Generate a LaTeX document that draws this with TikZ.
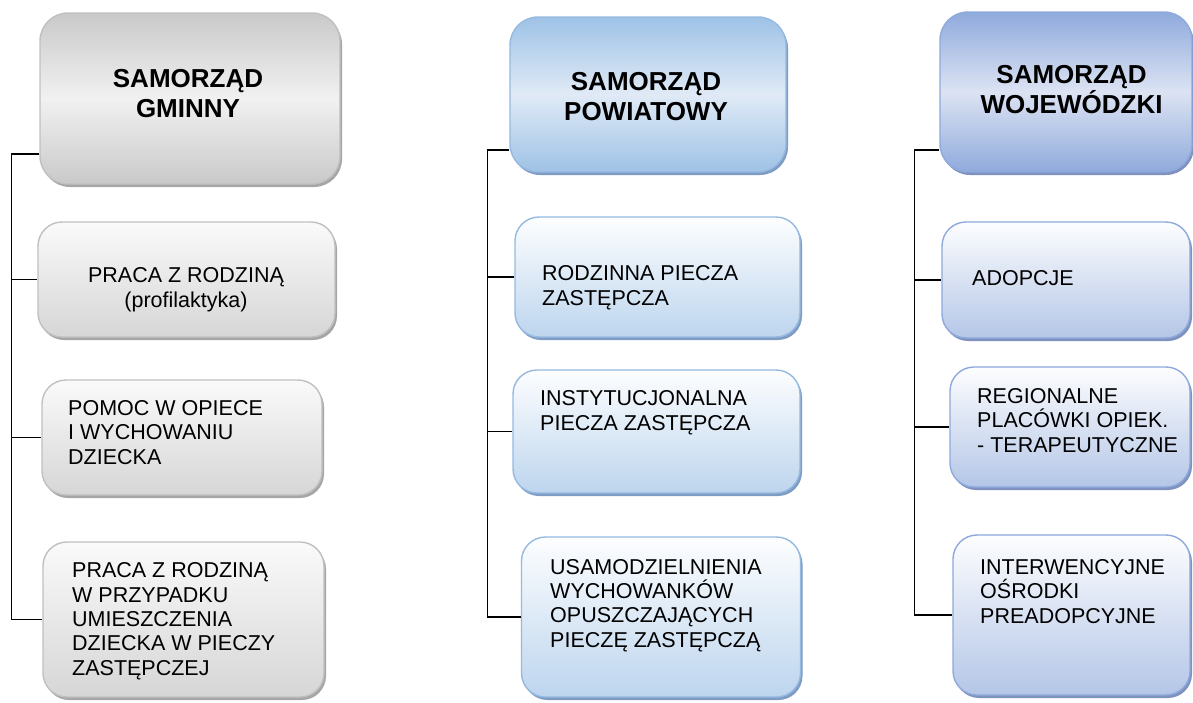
\documentclass[tikz,border=0pt]{standalone}
\usepackage{fontspec}
\setmainfont{Liberation Sans}
\usetikzlibrary{shadows}

\definecolor{gline}{HTML}{C0C0C0}
\definecolor{gdark}{HTML}{C9C9C9}
\definecolor{glight}{HTML}{F1F1F1}
\definecolor{gbot}{HTML}{D6D6D6}
\definecolor{gshade}{HTML}{A6A6A6}
\definecolor{pline}{HTML}{95B9E0}
\definecolor{pdark}{HTML}{9EC2E6}
\definecolor{plight}{HTML}{E0EAF6}
\definecolor{pbot}{HTML}{BDD5EE}
\definecolor{pshade}{HTML}{7F9CC4}
\definecolor{wline}{HTML}{8EA9DB}
\definecolor{wdark}{HTML}{8FAADC}
\definecolor{wlight}{HTML}{DCE3F3}
\definecolor{wbot}{HTML}{B4C6E7}
\definecolor{wshade}{HTML}{7F92BF}

\begin{document}
\begin{tikzpicture}[x=1pt,y=-1pt,
  conn/.style={line width=1.6pt},
  box/.style={rounded corners=24pt,line width=1.4pt,inner sep=0pt},
  head/.style={box,rounded corners=28pt,shading angle=-45},
  ghead/.style={head,draw=gline,top color=gdark,bottom color=gdark,middle color=glight,
    drop shadow={shadow xshift=2pt,shadow yshift=-3pt,fill=gshade,opacity=1}},
  gsub/.style={box,draw=gline,top color=white!96!gray,bottom color=gbot,
    drop shadow={shadow xshift=2pt,shadow yshift=-3pt,fill=gshade,opacity=1}},
  phead/.style={head,draw=pline,top color=pdark,bottom color=pdark,middle color=plight,
    drop shadow={shadow xshift=2pt,shadow yshift=-3pt,fill=pshade,opacity=1}},
  psub/.style={box,draw=pline,top color=white!97!pbot,bottom color=pbot,
    drop shadow={shadow xshift=2pt,shadow yshift=-3pt,fill=pshade,opacity=1}},
  whead/.style={head,draw=wline,top color=wdark,bottom color=wdark,middle color=wlight,
    drop shadow={shadow xshift=2pt,shadow yshift=-3pt,fill=wshade,opacity=1}},
  wsub/.style={box,draw=wline,top color=white!97!wbot,bottom color=wbot,
    drop shadow={shadow xshift=2pt,shadow yshift=-3pt,fill=wshade,opacity=1}},
  title/.style={font=\fontsize{26}{30}\selectfont\bfseries,align=center,inner sep=0pt,anchor=base},
  body/.style={font=\fontsize{21.5}{24.3}\selectfont,align=left,inner sep=0pt,anchor=base west}]
\useasboundingbox (0,0) rectangle (1193,702);

% samorzad gminny
\node[ghead,minimum width=300pt,minimum height=171pt] (g0) at (190,98.5) {};
\node[gsub,minimum width=297pt,minimum height=115pt] (g1) at (186.5,279.5) {};
\node[gsub,minimum width=280pt,minimum height=115pt] (g2) at (182,437.5) {};
\node[gsub,minimum width=281pt,minimum height=155pt] (g3) at (183.5,619.5) {};
\node[title] (g0t) at (188,117) {SAMORZĄD\\GMINNY};
\node[body,align=center,anchor=base] (g1t) at (186,307) {PRACA Z RODZINĄ\\(profilaktyka)};
\node[body] (g2t) at (68,464) {POMOC W OPIECE\\I WYCHOWANIU\\DZIECKA};
\node[body] (g3t) at (72,675) {PRACA Z RODZINĄ\\W PRZYPADKU\\UMIESZCZENIA\\DZIECKA W PIECZY\\ZASTĘPCZEJ};
\draw[conn] ([yshift=-55.5pt]g0.west) -- ++(-28,0) coordinate (gtr) |- (g3.west);
\draw[conn] (gtr |- g1.west) -- (g1.west);
\draw[conn] (gtr |- g2.west) -- (g2.west);

% samorzad powiatowy
\node[phead,minimum width=276pt,minimum height=155pt] (p0) at (648,94.5) {};
\node[psub,minimum width=285pt,minimum height=120pt] (p1) at (657.5,277) {};
\node[psub,minimum width=287pt,minimum height=123pt] (p2) at (656.5,431.5) {};
\node[psub,minimum width=279pt,minimum height=160pt] (p3) at (661,617) {};
\node[title] (p0t) at (646,120) {SAMORZĄD\\POWIATOWY};
\node[body] (p1t) at (542,305) {RODZINNA PIECZA\\ZASTĘPCZA};
\node[body] (p2t) at (540,430) {INSTYTUCJONALNA\\PIECZA ZASTĘPCZA};
\node[body] (p3t) at (550,647) {USAMODZIELNIENIA\\WYCHOWANKÓW\\OPUSZCZAJĄCYCH\\PIECZĘ ZASTĘPCZĄ};
\draw[conn] ([yshift=-55.5pt]p0.west) -- ++(-22,0) coordinate (ptr) |- (p3.west);
\draw[conn] (ptr |- p1.west) -- (p1.west);
\draw[conn] (ptr |- p2.west) -- (p2.west);

% samorzad wojewodzki
\node[whead,minimum width=252pt,minimum height=160pt] (w0) at (1066,92) {};
\node[wsub,minimum width=248pt,minimum height=116pt] (w1) at (1066,280) {};
\node[wsub,minimum width=240pt,minimum height=120pt] (w2) at (1070,427) {};
\node[wsub,minimum width=237pt,minimum height=160pt] (w3) at (1071.5,615) {};
\node[title] (w0t) at (1071.5,113) {SAMORZĄD\\WOJEWÓDZKI};
\node[body] (w1t) at (972,285) {ADOPCJE};
\node[body] (w2t) at (977,452) {REGIONALNE\\PLACÓWKI OPIEK.\\- TERAPEUTYCZNE};
\node[body] (w3t) at (980,623) {INTERWENCYJNE\\OŚRODKI\\PREADOPCYJNE};
\draw[conn] ([yshift=-58pt]w0.west) -- ++(-25,0) coordinate (wtr) |- (w3.west);
\draw[conn] (wtr |- w1.west) -- (w1.west);
\draw[conn] (wtr |- w2.west) -- (w2.west);
\end{tikzpicture}
\end{document}
